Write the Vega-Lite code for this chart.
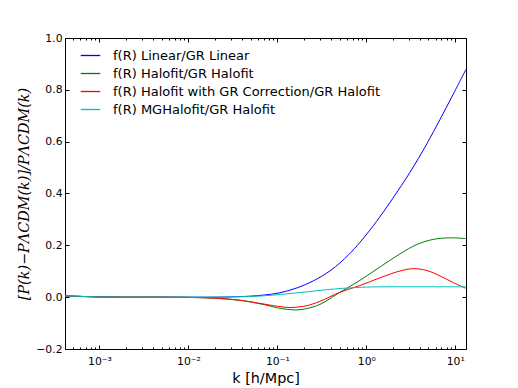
{
  "$schema": "https://vega.github.io/schema/vega-lite/v6.json",
  "width": 401,
  "height": 311,
  "autosize": {"type": "none"},
  "padding": {"left": 65, "top": 38, "right": 52, "bottom": 39},
  "background": "white",
  "config": {
    "font": "DejaVu Sans",
    "view": {"stroke": "black", "strokeWidth": 1},
    "axis": {"domain": false, "grid": false, "tickColor": "black", "tickWidth": 1, "labelColor": "black", "labelFontSize": 10.8, "labelFont": "DejaVu Sans", "titleColor": "black", "titleFontWeight": "normal"}
  },
  "data": {
    "values": [
      {"k": 0.00041, "v": 0.005, "s": "f(R) Linear/GR Linear"},
      {"k": 0.0006, "v": 0.003, "s": "f(R) Linear/GR Linear"},
      {"k": 0.001, "v": 0.001, "s": "f(R) Linear/GR Linear"},
      {"k": 0.002, "v": 0.0, "s": "f(R) Linear/GR Linear"},
      {"k": 0.005, "v": 0.0, "s": "f(R) Linear/GR Linear"},
      {"k": 0.01, "v": 0.0, "s": "f(R) Linear/GR Linear"},
      {"k": 0.02, "v": 0.0, "s": "f(R) Linear/GR Linear"},
      {"k": 0.03, "v": 0.001, "s": "f(R) Linear/GR Linear"},
      {"k": 0.05, "v": 0.004, "s": "f(R) Linear/GR Linear"},
      {"k": 0.07, "v": 0.008, "s": "f(R) Linear/GR Linear"},
      {"k": 0.107, "v": 0.017, "s": "f(R) Linear/GR Linear"},
      {"k": 0.17, "v": 0.037, "s": "f(R) Linear/GR Linear"},
      {"k": 0.254, "v": 0.063, "s": "f(R) Linear/GR Linear"},
      {"k": 0.4, "v": 0.104, "s": "f(R) Linear/GR Linear"},
      {"k": 0.63, "v": 0.163, "s": "f(R) Linear/GR Linear"},
      {"k": 0.849, "v": 0.212, "s": "f(R) Linear/GR Linear"},
      {"k": 1.1, "v": 0.259, "s": "f(R) Linear/GR Linear"},
      {"k": 1.55, "v": 0.328, "s": "f(R) Linear/GR Linear"},
      {"k": 2.29, "v": 0.413, "s": "f(R) Linear/GR Linear"},
      {"k": 3.1, "v": 0.482, "s": "f(R) Linear/GR Linear"},
      {"k": 4.78, "v": 0.591, "s": "f(R) Linear/GR Linear"},
      {"k": 6.74, "v": 0.686, "s": "f(R) Linear/GR Linear"},
      {"k": 9.52, "v": 0.784, "s": "f(R) Linear/GR Linear"},
      {"k": 13.2, "v": 0.879, "s": "f(R) Linear/GR Linear"},

      {"k": 0.00041, "v": 0.005, "s": "f(R) Halofit/GR Halofit"},
      {"k": 0.0006, "v": 0.003, "s": "f(R) Halofit/GR Halofit"},
      {"k": 0.001, "v": 0.001, "s": "f(R) Halofit/GR Halofit"},
      {"k": 0.002, "v": 0.0, "s": "f(R) Halofit/GR Halofit"},
      {"k": 0.005, "v": 0.0, "s": "f(R) Halofit/GR Halofit"},
      {"k": 0.01, "v": -0.001, "s": "f(R) Halofit/GR Halofit"},
      {"k": 0.02, "v": -0.004, "s": "f(R) Halofit/GR Halofit"},
      {"k": 0.038, "v": -0.012, "s": "f(R) Halofit/GR Halofit"},
      {"k": 0.069, "v": -0.028, "s": "f(R) Halofit/GR Halofit"},
      {"k": 0.1, "v": -0.041, "s": "f(R) Halofit/GR Halofit"},
      {"k": 0.139, "v": -0.048, "s": "f(R) Halofit/GR Halofit"},
      {"k": 0.17, "v": -0.049, "s": "f(R) Halofit/GR Halofit"},
      {"k": 0.214, "v": -0.044, "s": "f(R) Halofit/GR Halofit"},
      {"k": 0.301, "v": -0.028, "s": "f(R) Halofit/GR Halofit"},
      {"k": 0.506, "v": 0.019, "s": "f(R) Halofit/GR Halofit"},
      {"k": 0.849, "v": 0.065, "s": "f(R) Halofit/GR Halofit"},
      {"k": 1.43, "v": 0.117, "s": "f(R) Halofit/GR Halofit"},
      {"k": 2.39, "v": 0.167, "s": "f(R) Halofit/GR Halofit"},
      {"k": 3.69, "v": 0.203, "s": "f(R) Halofit/GR Halofit"},
      {"k": 5.67, "v": 0.223, "s": "f(R) Halofit/GR Halofit"},
      {"k": 8.74, "v": 0.229, "s": "f(R) Halofit/GR Halofit"},
      {"k": 13.2, "v": 0.226, "s": "f(R) Halofit/GR Halofit"},

      {"k": 0.00041, "v": 0.005, "s": "f(R) Halofit with GR Correction/GR Halofit"},
      {"k": 0.0006, "v": 0.003, "s": "f(R) Halofit with GR Correction/GR Halofit"},
      {"k": 0.001, "v": 0.001, "s": "f(R) Halofit with GR Correction/GR Halofit"},
      {"k": 0.002, "v": 0.0, "s": "f(R) Halofit with GR Correction/GR Halofit"},
      {"k": 0.005, "v": 0.0, "s": "f(R) Halofit with GR Correction/GR Halofit"},
      {"k": 0.01, "v": -0.001, "s": "f(R) Halofit with GR Correction/GR Halofit"},
      {"k": 0.02, "v": -0.004, "s": "f(R) Halofit with GR Correction/GR Halofit"},
      {"k": 0.038, "v": -0.012, "s": "f(R) Halofit with GR Correction/GR Halofit"},
      {"k": 0.069, "v": -0.026, "s": "f(R) Halofit with GR Correction/GR Halofit"},
      {"k": 0.1, "v": -0.035, "s": "f(R) Halofit with GR Correction/GR Halofit"},
      {"k": 0.139, "v": -0.04, "s": "f(R) Halofit with GR Correction/GR Halofit"},
      {"k": 0.18, "v": -0.037, "s": "f(R) Halofit with GR Correction/GR Halofit"},
      {"k": 0.214, "v": -0.033, "s": "f(R) Halofit with GR Correction/GR Halofit"},
      {"k": 0.301, "v": -0.016, "s": "f(R) Halofit with GR Correction/GR Halofit"},
      {"k": 0.506, "v": 0.019, "s": "f(R) Halofit with GR Correction/GR Halofit"},
      {"k": 0.849, "v": 0.045, "s": "f(R) Halofit with GR Correction/GR Halofit"},
      {"k": 1.43, "v": 0.075, "s": "f(R) Halofit with GR Correction/GR Halofit"},
      {"k": 2.39, "v": 0.101, "s": "f(R) Halofit with GR Correction/GR Halofit"},
      {"k": 3.38, "v": 0.11, "s": "f(R) Halofit with GR Correction/GR Halofit"},
      {"k": 4.78, "v": 0.103, "s": "f(R) Halofit with GR Correction/GR Halofit"},
      {"k": 6.74, "v": 0.082, "s": "f(R) Halofit with GR Correction/GR Halofit"},
      {"k": 9.52, "v": 0.056, "s": "f(R) Halofit with GR Correction/GR Halofit"},
      {"k": 13.2, "v": 0.034, "s": "f(R) Halofit with GR Correction/GR Halofit"},

      {"k": 0.00041, "v": 0.005, "s": "f(R) MGHalofit/GR Halofit"},
      {"k": 0.0006, "v": 0.003, "s": "f(R) MGHalofit/GR Halofit"},
      {"k": 0.001, "v": 0.001, "s": "f(R) MGHalofit/GR Halofit"},
      {"k": 0.002, "v": 0.0, "s": "f(R) MGHalofit/GR Halofit"},
      {"k": 0.005, "v": 0.0, "s": "f(R) MGHalofit/GR Halofit"},
      {"k": 0.01, "v": 0.0, "s": "f(R) MGHalofit/GR Halofit"},
      {"k": 0.03, "v": 0.001, "s": "f(R) MGHalofit/GR Halofit"},
      {"k": 0.069, "v": 0.005, "s": "f(R) MGHalofit/GR Halofit"},
      {"k": 0.18, "v": 0.018, "s": "f(R) MGHalofit/GR Halofit"},
      {"k": 0.39, "v": 0.03, "s": "f(R) MGHalofit/GR Halofit"},
      {"k": 0.6, "v": 0.035, "s": "f(R) MGHalofit/GR Halofit"},
      {"k": 1.0, "v": 0.039, "s": "f(R) MGHalofit/GR Halofit"},
      {"k": 2.0, "v": 0.04, "s": "f(R) MGHalofit/GR Halofit"},
      {"k": 5.0, "v": 0.04, "s": "f(R) MGHalofit/GR Halofit"},
      {"k": 13.2, "v": 0.04, "s": "f(R) MGHalofit/GR Halofit"}
    ]
  },
  "resolve": {"axis": {"x": "independent", "y": "independent"}},
  "layer": [
    {
      "mark": {"type": "line", "strokeWidth": 1, "interpolate": "catmull-rom", "clip": true},
      "encoding": {
        "x": {
          "field": "k", "type": "quantitative",
          "scale": {"type": "log", "domain": [0.00041, 13.2], "nice": false},
          "axis": {
            "orient": "bottom",
            "title": "k  [h/Mpc]", "titleFontSize": 14.4, "titlePadding": 4,
            "values": [0.0005,0.0006,0.0007,0.0008,0.0009,0.001,0.002,0.003,0.004,0.005,0.006,0.007,0.008,0.009,0.01,0.02,0.03,0.04,0.05,0.06,0.07,0.08,0.09,0.1,0.2,0.3,0.4,0.5,0.6,0.7,0.8,0.9,1,2,3,4,5,6,7,8,9,10],
            "labelExpr": "datum.value == 0.001 ? '10⁻³' : datum.value == 0.01 ? '10⁻²' : datum.value == 0.1 ? '10⁻¹' : datum.value == 1 ? '10⁰' : datum.value == 10 ? '10¹' : ''",
            "labelOverlap": false, "labelFlush": false, "labelPadding": 10,
            "tickSize": {"condition": {"test": "indexof([0.001,0.01,0.1,1,10], datum.value) >= 0", "value": -4}, "value": -2}
          }
        },
        "y": {
          "field": "v", "type": "quantitative",
          "scale": {"domain": [-0.2, 1.0], "nice": false, "zero": false},
          "axis": {
            "orient": "left",
            "values": [-0.2, 0, 0.2, 0.4, 0.6, 0.8, 1.0],
            "format": ".1f",
            "tickSize": -4, "labelPadding": 7,
            "title": "[P(k)−PΛCDM(k)]/PΛCDM(k)",
            "titleFont": "DejaVu Serif", "titleFontStyle": "italic", "titleFontSize": 14.4, "titlePadding": 4
          }
        },
        "color": {
          "field": "s", "type": "nominal",
          "scale": {
            "domain": ["f(R) Linear/GR Linear", "f(R) Halofit/GR Halofit", "f(R) Halofit with GR Correction/GR Halofit", "f(R) MGHalofit/GR Halofit"],
            "range": ["#0000ff", "#008000", "#ff0000", "#00bfbf"]
          },
          "legend": {
            "title": null, "orient": "none", "legendX": 15, "legendY": 7,
            "symbolType": "stroke", "symbolSize": 380, "symbolStrokeWidth": 1.3,
            "labelFontSize": 13, "labelFont": "DejaVu Sans", "labelColor": "black",
            "labelOffset": 12, "rowPadding": 0, "padding": 0, "labelLimit": 400
          }
        }
      }
    },
    {
      "mark": {"type": "point", "opacity": 0},
      "encoding": {
        "x": {
          "field": "k", "type": "quantitative",
          "scale": {"type": "log", "domain": [0.00041, 13.2], "nice": false},
          "axis": {
            "orient": "top", "title": null, "labels": false,
            "values": [0.0005,0.0006,0.0007,0.0008,0.0009,0.001,0.002,0.003,0.004,0.005,0.006,0.007,0.008,0.009,0.01,0.02,0.03,0.04,0.05,0.06,0.07,0.08,0.09,0.1,0.2,0.3,0.4,0.5,0.6,0.7,0.8,0.9,1,2,3,4,5,6,7,8,9,10],
            "tickSize": {"condition": {"test": "indexof([0.001,0.01,0.1,1,10], datum.value) >= 0", "value": -4}, "value": -2}
          }
        },
        "y": {
          "field": "v", "type": "quantitative",
          "scale": {"domain": [-0.2, 1.0], "nice": false, "zero": false},
          "axis": {"orient": "right", "title": null, "labels": false, "values": [-0.2, 0, 0.2, 0.4, 0.6, 0.8, 1.0], "tickSize": -4}
        }
      }
    }
  ]
}
